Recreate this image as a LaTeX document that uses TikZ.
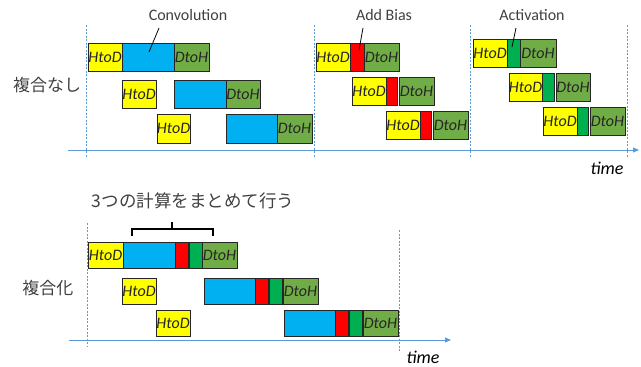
\documentclass[tikz,border=0pt]{standalone}
\usepackage{fontspec}
\setmainfont{Carlito}
\newfontfamily\jpfont{Noto Sans CJK JP}
\usetikzlibrary{arrows.meta}
\definecolor{hdyel}{HTML}{FFFF00}
\definecolor{cvblue}{HTML}{00B0F0}
\definecolor{dhgreen}{HTML}{70AD47}
\definecolor{acgreen}{HTML}{00B050}
\definecolor{biasred}{HTML}{FF0000}
\definecolor{axisblue}{HTML}{5B9BD5}
\definecolor{txtgray}{HTML}{404040}
\tikzset{
  blk/.style={draw=black!85, line width=0.8pt, inner sep=0pt, outer sep=0pt,
    font=\fontsize{16}{16}\selectfont\itshape, text=black!85},
  sepline/.style={axisblue, dashed, dash pattern=on 2pt off 1.5pt, line width=0.9pt},
  taxis/.style={axisblue, line width=0.9pt, -{Triangle[length=6pt,width=5pt]}},
  lbl/.style={text=txtgray, font=\fontsize{16}{16}\selectfont},
  jplbl/.style={text=txtgray, font=\jpfont\fontsize{17}{17}\selectfont},
  timelbl/.style={text=black, font=\fontsize{18}{18}\selectfont\itshape}
}
% box from x1 to x2 and y1 to y2 (pixels, y downwards)
\newcommand\blkbox[7]{%
  \node[blk, fill=#2, minimum width={(#4-#3)*1pt}, minimum height={(#6-#5)*1pt}]
    (#1) at ({(#3+#4)/2}, {(#5+#6)/2}) {#7};}
\begin{document}
\begin{tikzpicture}[x=1pt, y=-1pt]
	\useasboundingbox (0,0) rectangle (641,367);
	% separators and time axes
	\foreach \sx in {86,314,470,627}
		\draw[sepline] (\sx,25) -- (\sx,157);
	\draw[sepline] (87,223) -- (87,347);
	\draw[sepline] (399,230) -- (399,352);
	\coordinate (ta0) at (68,150);
	\coordinate (ta1) at (639,150);
	\draw[taxis] (ta0) -- (ta1);
	\coordinate (tb0) at (69,340);
	\coordinate (tb1) at (451,340);
	\draw[taxis] (tb0) -- (tb1);
	\node[timelbl] (timeA) at (607,168) {time};
	\node[timelbl] (timeB) at (423,357) {time};
	% separate kernels: convolution
	\blkbox{ch1}{hdyel}{88}{122}{43}{71}{HtoD}
	\blkbox{cc1}{cvblue}{122}{174}{43}{71}{}
	\blkbox{cd1}{dhgreen}{174}{209}{43}{71}{DtoH}
	\blkbox{ch2}{hdyel}{122}{156}{80}{108}{HtoD}
	\blkbox{cc2}{cvblue}{174}{226}{80}{108}{}
	\blkbox{cd2}{dhgreen}{226}{260}{80}{108}{DtoH}
	\blkbox{ch3}{hdyel}{157}{190}{114}{143}{HtoD}
	\blkbox{cc3}{cvblue}{226}{277}{114}{143}{}
	\blkbox{cd3}{dhgreen}{277}{312}{114}{143}{DtoH}
	% add bias
	\blkbox{bh1}{hdyel}{316}{350}{43}{71}{HtoD}
	\blkbox{bb1}{biasred}{350}{364}{43}{71}{}
	\blkbox{bd1}{dhgreen}{364}{399}{43}{71}{DtoH}
	\blkbox{bh2}{hdyel}{352}{386}{77}{105}{HtoD}
	\blkbox{bb2}{biasred}{386}{397}{77}{105}{}
	\blkbox{bd2}{dhgreen}{399}{434}{77}{105}{DtoH}
	\blkbox{bh3}{hdyel}{386}{420}{111}{139}{HtoD}
	\blkbox{bb3}{biasred}{420}{431}{111}{139}{}
	\blkbox{bd3}{dhgreen}{433}{468}{111}{139}{DtoH}
	% activation
	\blkbox{ah1}{hdyel}{473}{507}{39}{67}{HtoD}
	\blkbox{aa1}{acgreen}{507}{520}{39}{67}{}
	\blkbox{ad1}{dhgreen}{520}{556}{39}{67}{DtoH}
	\blkbox{ah2}{hdyel}{509}{542}{73}{101}{HtoD}
	\blkbox{aa2}{acgreen}{542}{554}{73}{101}{}
	\blkbox{ad2}{dhgreen}{556}{590}{73}{101}{DtoH}
	\blkbox{ah3}{hdyel}{543}{577}{107}{135}{HtoD}
	\blkbox{aa3}{acgreen}{577}{588}{107}{135}{}
	\blkbox{ad3}{dhgreen}{590}{625}{107}{135}{DtoH}
	% kernel names
	\node[lbl] (lconv) at (188,15) {Convolution};
	\node[lbl] (lbias) at (384,15) {Add Bias};
	\node[lbl] (lact) at (532,15) {Activation};
	\coordinate (pconv) at (149,52);
	\coordinate (pbias) at (359,50);
	\coordinate (pact) at (512,47);
	\draw[black, line width=0.8pt] (159,28) -- (pconv);
	\draw[black, line width=0.8pt] (363,28) -- (pbias);
	\draw[black, line width=0.8pt] (516,28) -- (pact);
	\node[jplbl] (lsep) at (47,85) {複合なし};
	% fused kernel
	\blkbox{fh1}{hdyel}{88}{123}{242}{268}{HtoD}
	\blkbox{fc1}{cvblue}{123}{175}{242}{268}{}
	\blkbox{fb1}{biasred}{175}{188}{242}{268}{}
	\blkbox{fa1}{acgreen}{189}{202}{242}{268}{}
	\blkbox{fd1}{dhgreen}{202}{237}{242}{268}{DtoH}
	\blkbox{fh2}{hdyel}{122}{156}{278}{304}{HtoD}
	\blkbox{fc2}{cvblue}{204}{255}{278}{304}{}
	\blkbox{fb2}{biasred}{255}{268}{278}{304}{}
	\blkbox{fa2}{acgreen}{269}{282}{278}{304}{}
	\blkbox{fd2}{dhgreen}{283}{318}{278}{304}{DtoH}
	\blkbox{fh3}{hdyel}{156}{190}{310}{336}{HtoD}
	\blkbox{fc3}{cvblue}{284}{335}{310}{336}{}
	\blkbox{fb3}{biasred}{335}{348}{310}{336}{}
	\blkbox{fa3}{acgreen}{349}{362}{310}{336}{}
	\blkbox{fd3}{dhgreen}{363}{398}{310}{336}{DtoH}
	\node[jplbl] (lfuse) at (48,288) {複合化};
	\node[jplbl, font=\jpfont\fontsize{17.5}{17.5}\selectfont] (lthree) at (193,201) {3つの計算をまとめて行う};
	% bracket
	\draw[black, line width=1.2pt] (132,236) -- (132,229) -- (213,229) -- (213,236);
	\draw[black, line width=1.2pt] (172,229) -- (172,222);
\end{tikzpicture}
\end{document}
